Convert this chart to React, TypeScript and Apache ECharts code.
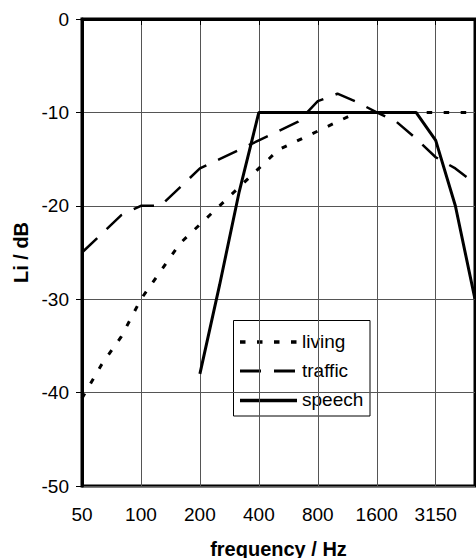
import React, { useEffect, useRef } from "react";
import * as echarts from "echarts";

const categories = ["50", "63", "80", "100", "125", "160", "200", "250", "315", "400", "500", "630", "800", "1000", "1250", "1600", "2000", "2500", "3150", "4000", "5000"];
const living = [-40.6, -37, -34, -30, -27, -24, -22, -20, -18, -16, -14, -13, -12, -11, -10, -10, -10, -10, -10, -10, -10];
const traffic = [-25, -23, -21, -20, -20, -18, -16, -15, -14, -13, -12, -11, -8.8, -8, -8.9, -10, -11, -12.8, -14.8, -16, -17.6];
const speech = [null, null, null, null, null, null, -38, -28.5, -18.5, -10, -10, -10, -10, -10, -10, -10, -10, -10, -13, -20, -30];
const seriesNames = ["living", "traffic", "speech"];

const FONT = "'Liberation Sans', Arial, Helvetica, sans-serif";

const STYLES: Record<string, { width: number; dash: number[] | null }> = {
  living: { width: 3, dash: [5.5, 11.5] },
  traffic: { width: 2.5, dash: [21, 13] },
  speech: { width: 3, dash: null },
};

export default function App() {
  const ref = useRef<HTMLDivElement>(null);
  useEffect(() => {
    if (!ref.current) return;
    const chart = echarts.init(ref.current, null, { renderer: "svg" });

    // legend box (drawn as graphic so the dash patterns match)
    const legendLeft = 233.5;
    const legendTop = 320.5;
    const legendW = 136.5;
    const legendH = 95.5;
    const rowY = [342, 371, 400.5];
    const legendChildren: any[] = [
      {
        type: "rect",
        shape: { x: legendLeft, y: legendTop, width: legendW, height: legendH },
        style: { fill: "#fff", stroke: "#000", lineWidth: 1 },
      },
    ];
    seriesNames.forEach((n, i) => {
      const st = STYLES[n];
      legendChildren.push({
        type: "line",
        shape: { x1: 240, y1: rowY[i], x2: 297, y2: rowY[i] },
        style: { stroke: "#000", lineWidth: st.width + 0.5, lineDash: st.dash || undefined },
      });
      legendChildren.push({
        type: "text",
        x: 302,
        y: rowY[i] - 1,
        style: {
          text: n,
          fontFamily: FONT,
          fontSize: 19,
          fill: "#000",
          verticalAlign: "middle",
          align: "left",
        },
      });
    });

    chart.setOption({
      animation: false,
      textStyle: { fontFamily: FONT, color: "#000" },
      grid: {
        left: 82,
        right: 1,
        top: 19,
        bottom: 72,
        show: true,
        borderColor: "#000",
        borderWidth: 3,
        backgroundColor: "transparent",
        outerBoundsMode: "none",
        containLabel: false,
      },
      xAxis: {
        type: "category",
        data: categories,
        boundaryGap: false,
        name: "frequency / Hz",
        nameLocation: "middle",
        nameGap: 53,
        nameTextStyle: { fontFamily: FONT, fontSize: 20, fontWeight: "bold", color: "#000" },
        axisLine: { show: true, lineStyle: { color: "#000", width: 3 } },
        axisTick: { show: true, interval: 2, length: 6, lineStyle: { color: "#000", width: 1 } },
        axisLabel: { interval: 2, fontFamily: FONT, fontSize: 19, color: "#000", margin: 19 },
        splitLine: { show: true, interval: 2, lineStyle: { color: "#555", width: 1 } },
      },
      yAxis: {
        type: "value",
        min: -50,
        max: 0,
        interval: 10,
        name: "Li / dB",
        nameLocation: "middle",
        nameGap: 47,
        nameRotate: 90,
        nameTextStyle: { fontFamily: FONT, fontSize: 20, fontWeight: "bold", color: "#000" },
        axisLine: { show: true, lineStyle: { color: "#000", width: 3 } },
        axisTick: { show: true, length: 6, lineStyle: { color: "#000", width: 1 } },
        axisLabel: { fontFamily: FONT, fontSize: 19, color: "#000", margin: 13 },
        splitLine: { show: true, lineStyle: { color: "#555", width: 1 } },
      },
      graphic: [{ type: "group", z: 100, children: legendChildren }],
      series: [
        {
          name: "living",
          type: "line",
          data: living,
          symbol: "none",
          showSymbol: false,
          lineStyle: { color: "#000", width: STYLES.living.width, type: STYLES.living.dash },
          itemStyle: { color: "#000" },
        },
        {
          name: "traffic",
          type: "line",
          data: traffic,
          symbol: "none",
          showSymbol: false,
          lineStyle: { color: "#000", width: STYLES.traffic.width, type: STYLES.traffic.dash },
          itemStyle: { color: "#000" },
        },
        {
          name: "speech",
          type: "line",
          data: speech,
          symbol: "none",
          showSymbol: false,
          connectNulls: false,
          lineStyle: { color: "#000", width: STYLES.speech.width, type: "solid" },
          itemStyle: { color: "#000" },
        },
      ],
    });
    return () => chart.dispose();
  }, []);
  return (
    <div
      ref={ref}
      style={{ position: "fixed", left: 0, top: 0, width: 476, height: 558, background: "#fff" }}
    />
  );
}
